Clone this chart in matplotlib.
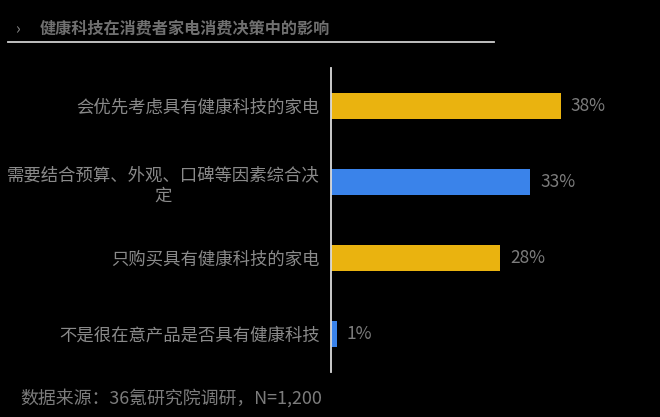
import matplotlib
matplotlib.use("Agg")
import matplotlib.pyplot as plt
from matplotlib.lines import Line2D

plt.rcParams['font.family'] = ['Noto Sans CJK SC', 'DejaVu Sans']

categories = ["会优先考虑具有健康科技的家电",
              "需要结合预算、外观、口碑等因素综合决\n定",
              "只购买具有健康科技的家电",
              "不是很在意产品是否具有健康科技"]
values = [38, 33, 28, 1]
value_labels = ["38%", "33%", "28%", "1%"]
bar_colors = ["#EAB30F", "#3A83EA", "#EAB30F", "#3A83EA"]
title = "健康科技在消费者家电消费决策中的影响"
source = "数据来源：36氪研究院调研，N=1,200"

W, H = 660, 417
fig = plt.figure(figsize=(W / 100, H / 100), dpi=100)
fig.patch.set_facecolor("black")

ax_l, ax_r, ax_t, ax_b = 331, 621, 68, 372
ax = fig.add_axes([ax_l / W, 1 - ax_b / H, (ax_r - ax_l) / W, (ax_b - ax_t) / H])
ax.set_facecolor("black")

y = list(range(len(categories)))
ax.barh(y, values, height=0.35, color=bar_colors)
ax.set_ylim(len(categories) - 0.5, -0.5)
ax.set_xlim(0, 48)

for yi, v, lab in zip(y, values, value_labels):
    ax.text(v + 1.6, yi, lab, va="center", ha="left", color="#7c7c7c", fontsize=12.5)

ax.set_yticks(y)
ax.set_yticklabels(categories, fontsize=12.5, color="#8a8a8a", multialignment="center")
ax.tick_params(axis="y", length=0, pad=8)
ax.set_xticks([])
for s in ["top", "right", "bottom"]:
    ax.spines[s].set_visible(False)
ax.spines["left"].set_color("#dcdcdc")
ax.spines["left"].set_linewidth(1.3)

# Title
fig.text(15 / W, 1 - 30 / H, "›", color="#8a8a8a", fontsize=11, ha="left", va="center")
fig.text(40 / W, 1 - 29 / H, title, color="#707070", fontsize=11.6, fontweight="heavy",
         ha="left", va="center")
fig.add_artist(Line2D([8 / W, 494 / W], [1 - 41.5 / H, 1 - 41.5 / H],
                      color="#cfcfcf", linewidth=1.3, transform=fig.transFigure))

# Source
fig.text(20 / W, 1 - 398 / H, source, color="#7c7c7c", fontsize=12.9, ha="left", va="center")

fig.savefig("out.png", dpi=100, facecolor="black")
